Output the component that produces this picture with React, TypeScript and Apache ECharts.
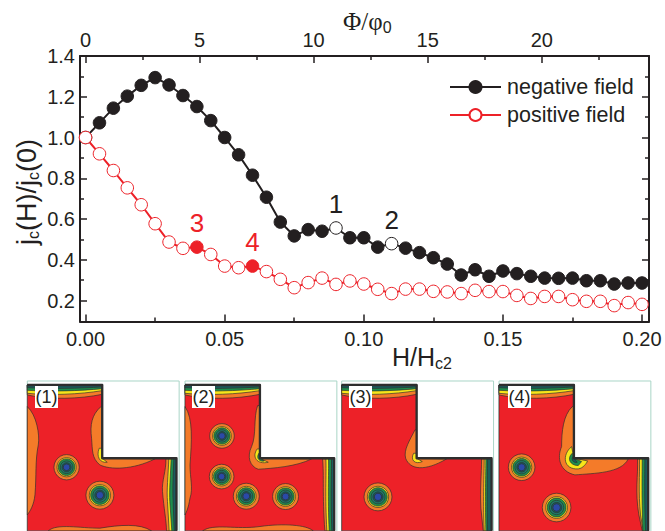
import React, { useEffect, useRef } from "react";
import * as echarts from "echarts";

const fieldH = [0, 0.005, 0.01, 0.015, 0.02, 0.025, 0.03, 0.035, 0.04, 0.045, 0.05, 0.055, 0.06, 0.065, 0.07, 0.075, 0.08, 0.085, 0.09, 0.095, 0.1, 0.105, 0.11, 0.115, 0.12, 0.125, 0.13, 0.135, 0.14, 0.145, 0.15, 0.155, 0.16, 0.165, 0.17, 0.175, 0.18, 0.185, 0.19, 0.195, 0.2];
const negativeField = [1.0, 1.072, 1.144, 1.203, 1.256, 1.294, 1.258, 1.206, 1.152, 1.083, 1.0, 0.915, 0.815, 0.707, 0.585, 0.517, 0.548, 0.54, 0.556, 0.508, 0.508, 0.462, 0.479, 0.457, 0.435, 0.41, 0.379, 0.325, 0.351, 0.319, 0.345, 0.332, 0.319, 0.31, 0.309, 0.31, 0.297, 0.297, 0.281, 0.286, 0.286];
const positiveField = [1.0, 0.92, 0.838, 0.753, 0.67, 0.577, 0.487, 0.456, 0.462, 0.426, 0.369, 0.361, 0.369, 0.342, 0.304, 0.263, 0.288, 0.31, 0.279, 0.296, 0.281, 0.255, 0.234, 0.256, 0.256, 0.245, 0.242, 0.234, 0.25, 0.244, 0.244, 0.225, 0.21, 0.22, 0.22, 0.204, 0.196, 0.196, 0.175, 0.19, 0.181];
const negativeMarked: Record<number, string> = { 18: "1", 22: "2" };
const positiveMarked: Record<number, string> = { 8: "3", 12: "4" };
const xMajor = [0, 0.05, 0.1, 0.15, 0.2];
const xMinor = [0.025, 0.075, 0.125, 0.175];
const yMajor = [0.2, 0.4, 0.6, 0.8, 1.0, 1.2, 1.4];
const yMinor = [0.3, 0.5, 0.7, 0.9, 1.1, 1.3];
const fluxMajor = [0, 5, 10, 15, 20];
const fluxMinor = [2.5, 7.5, 12.5, 17.5, 22.5];

const INK = "#231f20";
const RED = "#ed2128";
const ORANGE = "#f47b29";
const YELLOW = "#f7e61a";
const GREEN = "#1e8e4e";
const TEAL = "#1b5c5e";
const BLUE = "#2a4aa8";
const LINE = "#2e2e2e";
const FONT = "Liberation Sans";

let shapeCount = 0;
function shape(d: string, fill: string) {
  const name = "inset" + shapeCount++;
  echarts.graphic.registerShape(name, echarts.graphic.extendPath(d, {}));
  return { type: name, silent: true, style: { fill, stroke: LINE, lineWidth: 2 } };
}

function topBands() {
  return [
    ["M0 30 L225 30 L225 58 C158 72 68 75 0 60 Z", ORANGE],
    ["M0 30 L225 30 L225 47 C158 58 68 62 0 55 Z", YELLOW],
    ["M0 30 L225 30 L225 41 C158 48 68 50 0 46 Z", GREEN],
    ["M0 30 L225 30 L225 36 C158 40 68 42 0 38 Z", TEAL],
  ].map(([d, f]) => shape(d, f));
}

function vortex(cx: number, cy: number, r: number) {
  const rings: [number, string][] = [
    [r, ORANGE],
    [r * 0.76, YELLOW],
    [r * 0.66, GREEN],
    [r * 0.5, "#1f7a6a"],
    [r * 0.36, TEAL],
    [r * 0.26, BLUE],
  ];
  return rings.map(([rr, fill]) => ({
    type: "circle",
    silent: true,
    shape: { cx, cy, r: rr },
    style: { fill, stroke: LINE, lineWidth: 2 },
  }));
}

type Panel = {
  x: number;
  width: number;
  label: string;
  labelX: number;
  back: [string, string][];
  vortices: [number, number, number][];
};

const panels: Panel[] = [
  {
    x: 27.3, width: 448, label: "(1)", labelX: 35,
    back: [
      ["M0 95 C28 120 38 180 33 210 C23 260 28 300 23 360 C20 390 8 410 0 420 Z", ORANGE],
      ["M63 468 C88 445 158 460 218 460 C278 450 338 445 373 468 Z", ORANGE],
      ["M221 95 C193 120 188 150 193 190 C196 225 193 250 218 270 C248 285 318 285 383 252 L225 250 L225 95 Z", ORANGE],
      ["M216 220 C206 245 218 265 240 262 L225 250 L225 220 Z", YELLOW],
      ["M416 252 C418 285 403 320 406 350 C410 400 418 440 418 468 L448 468 L448 252 Z", ORANGE],
      ["M425 252 C423 300 418 350 421 380 L426 468 L448 468 L448 252 Z", YELLOW],
      ["M432 252 C430 300 426 350 428 380 L434 468 L448 468 L448 252 Z", GREEN],
      ["M440 252 C438 300 436 350 438 380 L441 468 L448 468 L448 252 Z", TEAL],
    ],
    vortices: [[118, 277, 38], [218, 361, 42]],
  },
  {
    x: 185, width: 448, label: "(2)", labelX: 192,
    back: [
      ["M0 95 C25 130 20 200 15 270 C15 310 25 340 15 370 C10 400 5 410 0 420 Z", ORANGE],
      ["M53 468 C85 445 155 465 225 455 C295 445 365 450 385 468 Z", ORANGE],
      ["M218 92 C205 130 215 180 200 215 C185 245 195 275 220 283 C265 280 335 275 380 252 L225 250 L225 92 Z", ORANGE],
      ["M217 222 C200 245 215 270 250 262 L225 250 L225 222 Z", YELLOW],
      ["M222 235 C212 250 225 262 238 258 L225 250 Z", GREEN],
      ["M413 252 C418 300 412 360 420 468 L448 468 L448 252 Z", ORANGE],
      ["M423 252 C425 300 420 360 426 468 L448 468 L448 252 Z", YELLOW],
      ["M431 252 C432 300 428 360 433 468 L448 468 L448 252 Z", GREEN],
      ["M440 252 C440 300 437 360 441 468 L448 468 L448 252 Z", TEAL],
    ],
    vortices: [[111, 183, 37], [110, 305, 37], [184, 364, 39], [302, 365, 39]],
  },
  {
    x: 341.7, width: 450, label: "(3)", labelX: 349,
    back: [
      ["M220 165 C205 195 185 225 192 250 C205 285 250 290 315 252 L225 250 L225 165 Z", ORANGE],
      ["M216 235 C205 255 220 270 242 260 L225 250 L225 235 Z", YELLOW],
      ["M420 252 C420 300 415 340 418 400 L425 468 L450 468 L450 252 Z", ORANGE],
      ["M428 252 C428 300 424 360 428 468 L450 468 L450 252 Z", YELLOW],
      ["M433 252 C433 300 430 360 433 468 L450 468 L450 252 Z", GREEN],
      ["M438 252 C438 300 436 360 438 468 L450 468 L450 252 Z", TEAL],
    ],
    vortices: [[109, 366, 42]],
  },
  {
    x: 499, width: 448, label: "(4)", labelX: 508,
    back: [
      ["M220 95 C193 120 188 170 188 215 C173 250 183 290 228 300 C288 295 368 295 388 252 L225 250 L225 95 Z", ORANGE],
      ["M218 215 C188 240 193 285 238 282 C253 280 263 265 266 258 L225 250 Z", YELLOW],
      ["M220 235 C203 250 213 272 238 272 L248 260 L225 250 Z", GREEN],
      ["M222 245 C215 255 225 265 235 262 L225 250 Z", TEAL],
      ["M416 252 C418 300 408 350 420 420 L430 468 L448 468 L448 252 Z", ORANGE],
      ["M422 252 C423 300 418 350 425 420 L433 468 L448 468 L448 252 Z", YELLOW],
      ["M430 252 C430 300 428 350 432 468 L448 468 L448 252 Z", GREEN],
      ["M438 252 C438 300 436 350 440 468 L448 468 L448 252 Z", TEAL],
    ],
    vortices: [[68, 277, 40], [173, 398, 43]],
  },
];

const insetElements: any[] = panels.flatMap((p) => {
  const r = p.width;
  const body = shape(`M0 30 L225 30 L225 250 L${r} 250 L${r} 468 L0 468 Z`, RED);
  return [
    {
      type: "group",
      x: p.x,
      y: 375,
      scaleX: 1 / 3,
      scaleY: 1 / 3,
      silent: true,
      children: [
        {
          type: "rect",
          shape: { x: 0, y: 18, width: 456, height: 460 },
          style: { fill: "#fff", stroke: "#a9d5c7", lineWidth: 3 },
        },
        body,
        ...p.back.map(([d, f]) => shape(d, f)),
        ...topBands(),
        ...p.vortices.flatMap(([cx, cy, rr]) => vortex(cx, cy, rr)),
        {
          type: "polyline",
          shape: { points: [[0, 30], [225, 30], [225, 250], [r, 250], [r, 468]] },
          style: { fill: "none", stroke: LINE, lineWidth: 7, lineJoin: "round" },
        },
      ],
    },
    {
      type: "rect",
      silent: true,
      shape: { x: p.labelX, y: 386, width: 23, height: 22 },
      style: { fill: "#fff" },
    },
    {
      type: "text",
      silent: true,
      x: p.labelX + 11.5,
      y: 397,
      style: { text: p.label, font: `18px '${FONT}'`, fill: INK, textAlign: "center", textVerticalAlign: "middle" },
    },
  ];
});

const TITLE_RICH = {
  sub: { fontFamily: FONT, fontSize: 16, fill: INK, color: INK, verticalAlign: "bottom", padding: [12, 0, 0, 0] },
};

const titleElements: any[] = [
  {
    type: "text", silent: true, x: 27, y: 192, rotation: Math.PI / 2,
    style: {
      text: "{m|j}{sub|c}{m|(H)/j}{sub|c}{m|(0)}",
      textAlign: "center", textVerticalAlign: "middle",
      rich: { m: { fontFamily: FONT, fontSize: 27, fill: INK, color: INK }, ...TITLE_RICH },
    },
  },
  {
    type: "text", silent: true, x: 392, y: 357,
    style: {
      text: "{m|H/H}{sub|c2}",
      textAlign: "left", textVerticalAlign: "middle",
      rich: { m: { fontFamily: FONT, fontSize: 25, fill: INK, color: INK }, ...TITLE_RICH },
    },
  },
  {
    type: "text", silent: true, x: 343, y: 21,
    style: {
      text: "{m|Φ/φ}{sub|0}",
      textAlign: "left", textVerticalAlign: "middle",
      rich: { m: { fontFamily: "Liberation Serif", fontSize: 25, fill: INK, color: INK }, ...TITLE_RICH },
    },
  },
];

function hiddenAxis(position: string, min: number, max: number, values: number[], length: number) {
  return {
    type: "value", position, min, max, scale: true,
    axisLine: { show: false, onZero: false },
    axisTick: { show: true, inside: true, length, customValues: values, lineStyle: { color: INK, width: 1.5 } },
    axisLabel: { show: false },
    splitLine: { show: false },
    minorTick: { show: false },
  };
}

function mainAxis(position: string, min: number, max: number, values: number[], labels: boolean, digits: number, margin: number) {
  return {
    type: "value", position, min, max, scale: true,
    axisLine: { show: true, onZero: false, lineStyle: { color: INK, width: 2 } },
    axisTick: { show: true, inside: true, length: 7, customValues: values, lineStyle: { color: INK, width: 1.5 } },
    axisLabel: {
      show: labels,
      customValues: values,
      margin,
      fontFamily: FONT,
      fontSize: 20,
      color: INK,
      formatter: (v: number) => v.toFixed(digits),
    },
    splitLine: { show: false },
  };
}

const X_MIN = -0.002;
const X_MAX = 0.2025;
const Y_MIN = 0.097;
const Y_MAX = 1.4;
const F_MIN = -0.24;
const F_MAX = 24.7;

export default function App() {
  const ref = useRef<HTMLDivElement>(null);
  useEffect(() => {
    const chart = echarts.init(ref.current!, undefined, { renderer: "svg" });
    const numberLabel = (text: string, color: string) => ({
      show: true, position: "top", distance: 4, formatter: text, fontFamily: FONT, fontSize: 26, color,
    });
    chart.setOption({
      animation: false,
      backgroundColor: "#fff",
      textStyle: { fontFamily: FONT },
      grid: { left: 80, top: 56, width: 569, height: 265.5, containLabel: false },
      xAxis: [
        mainAxis("bottom", X_MIN, X_MAX, xMajor, true, 2, 7),
        mainAxis("top", F_MIN, F_MAX, fluxMajor, true, 0, 6),
        hiddenAxis("bottom", X_MIN, X_MAX, xMinor, 4),
        hiddenAxis("top", F_MIN, F_MAX, fluxMinor, 4),
      ],
      yAxis: [
        mainAxis("left", Y_MIN, Y_MAX, yMajor, true, 1, 5),
        mainAxis("right", Y_MIN, Y_MAX, yMajor, false, 1, 5),
        hiddenAxis("left", Y_MIN, Y_MAX, yMinor, 4),
        hiddenAxis("right", Y_MIN, Y_MAX, yMinor, 4),
      ],
      legend: {
        show: true,
        left: 449,
        top: 76,
        padding: 0,
        orient: "vertical",
        itemWidth: 51,
        itemHeight: 15,
        itemGap: 6,
        textStyle: { fontFamily: FONT, fontSize: 21.5, color: INK, padding: [0, 0, 0, 1] },
        data: ["negative field", "positive field"],
      },
      series: [
        {
          name: "negative field",
          type: "line",
          symbol: "circle",
          symbolSize: 12.5,
          showAllSymbol: true,
          lineStyle: { color: INK, width: 2 },
          itemStyle: { color: INK, borderColor: INK, borderWidth: 1 },
          data: fieldH.map((h, i) => {
            const mark = negativeMarked[i];
            return mark
              ? { value: [h, negativeField[i]], itemStyle: { color: "#fff", borderColor: INK, borderWidth: 1 }, label: numberLabel(mark, INK) }
              : { value: [h, negativeField[i]] };
          }),
        },
        {
          name: "positive field",
          type: "line",
          symbol: "circle",
          symbolSize: 12.5,
          showAllSymbol: true,
          lineStyle: { color: RED, width: 2 },
          itemStyle: { color: "#fff", borderColor: RED, borderWidth: 1 },
          data: fieldH.map((h, i) => {
            const mark = positiveMarked[i];
            return mark
              ? { value: [h, positiveField[i]], itemStyle: { color: RED, borderColor: RED, borderWidth: 1 }, label: numberLabel(mark, RED) }
              : { value: [h, positiveField[i]] };
          }),
        },
      ],
      graphic: { elements: [...titleElements, ...insetElements] },
    });
    return () => chart.dispose();
  }, []);
  return <div ref={ref} style={{ position: "fixed", left: 0, top: 0, width: 665, height: 531 }} />;
}
